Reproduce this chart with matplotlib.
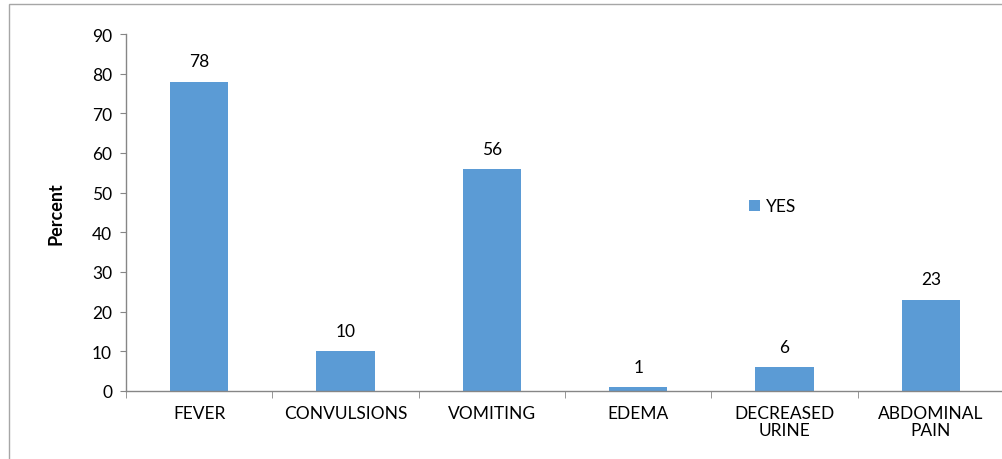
import matplotlib.pyplot as plt
from matplotlib.patches import Rectangle

# symptom frequencies (percent of patients)
symptoms = ['FEVER', 'CONVULSIONS', 'VOMITING', 'EDEMA', 'DECREASED\nURINE', 'ABDOMINAL\nPAIN']
yes_pct = [78, 10, 56, 1, 6, 23]
y_ticks = [0, 10, 20, 30, 40, 50, 60, 70, 80, 90]

plt.rcParams['font.family'] = ['Lato', 'DejaVu Sans']
fs = 12.5

fig = plt.figure(figsize=(10.02, 4.6), dpi=100)
ax = fig.add_axes([126 / 1002, 68 / 460, 878 / 1002, 357 / 460])

# thin frame around the chart area
fig.patches.append(Rectangle((9 / 1002, -0.1), 1.1, 1.1 - 5 / 460,
                             transform=fig.transFigure, fill=False,
                             edgecolor='#a6a6a6', linewidth=1.0))

xs = list(range(len(symptoms)))
ax.bar(xs, yes_pct, width=0.4, color='#5b9bd5', label='YES', zorder=2)
for x, v in zip(xs, yes_pct):
    ax.annotate(str(v), (x, v), xytext=(0, 11), textcoords='offset points',
                ha='center', va='baseline', fontsize=fs, color='black')

ax.set_xlim(-0.5, len(symptoms) - 0.5)
ax.set_ylim(0, 90)
ax.set_yticks(y_ticks)
ax.tick_params(axis='y', direction='out', length=4, color='#868686',
               labelsize=fs, pad=6)

ax.set_xticks([x + 0.5 for x in xs[:-1]] + [-0.5], minor=True)
ax.set_xticks(xs)
ax.set_xticklabels(symptoms, fontsize=fs, linespacing=1.05)
ax.tick_params(axis='x', which='major', length=0, pad=10)
ax.tick_params(axis='x', which='minor', direction='out', length=5, color='#868686')

for side in ['top', 'right']:
    ax.spines[side].set_visible(False)
for side in ['left', 'bottom']:
    ax.spines[side].set_color('#868686')
    ax.spines[side].set_linewidth(1.0)

ax.set_ylabel('Percent', fontsize=13, fontweight='bold', labelpad=20)

ax.legend(loc='center left', bbox_to_anchor=(0.692, 0.517), frameon=False,
          handlelength=0.65, handleheight=0.65, handletextpad=0.3, fontsize=fs)

plt.savefig('out.png', dpi=100)
